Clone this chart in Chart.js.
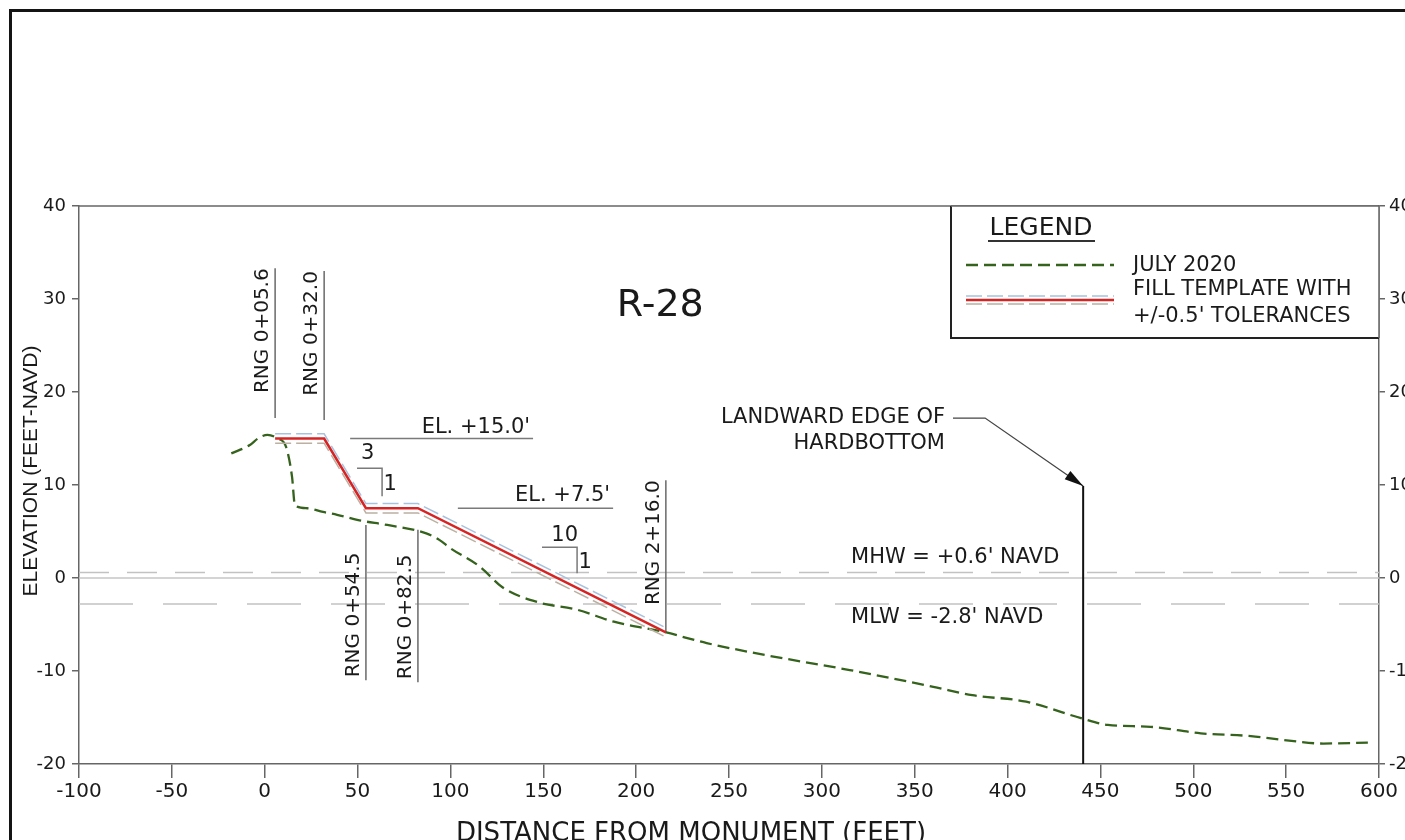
<!DOCTYPE html>
<html>
<head>
<meta charset="utf-8">
<script src="https://cdn.jsdelivr.net/npm/chart.js@4.4.1/dist/chart.umd.min.js"></script>
<style>
html,body{margin:0;padding:0;background:#fff;overflow:hidden;}
#wrap{position:relative;width:1405px;height:840px;}
#frame{position:absolute;left:9px;top:9px;width:2000px;height:2000px;border-left:3px solid #141414;border-top:3px solid #141414;pointer-events:none;}
canvas{position:absolute;left:0;top:0;}
</style>
</head>
<body>
<div id="wrap">
<canvas id="grafik" width="1405" height="840"></canvas>
<div id="frame"></div>
</div>
<script>
// profile R-28, values
const groundX = [-18, -8, -3.6, 1.5, 7, 11.5, 14.7, 16.3, 22.8, 31.4, 39, 51, 66, 87, 94, 100, 116, 128, 147, 168, 188, 215, 238, 270, 315, 360, 381, 410, 440, 454, 477, 504, 531, 548, 570, 594];
const groundY = [13.4, 14.3, 15.0, 15.4, 15.0, 14.1, 10.9, 7.8, 7.5, 7.1, 6.8, 6.2, 5.7, 4.8, 4.1, 3.2, 1.2, -1.0, -2.6, -3.4, -4.7, -5.8, -7.0, -8.3, -9.9, -11.7, -12.6, -13.3, -15.1, -15.8, -16.0, -16.7, -17.0, -17.4, -17.8, -17.7];

const templateX = [5.6, 32.0, 54.5, 82.5, 216.0];
const templateY = [15.0, 15.0, 7.5, 7.5, -5.85];
const tolerance = 0.5;

const tideLabels = ["MHW = +0.6' NAVD", "MLW = -2.8' NAVD"];
const tideLevels = [0.6, -2.8];

const rngStations = [5.6, 32.0, 54.5, 82.5, 216.0];
const rngLabels = ['RNG 0+05.6', 'RNG 0+32.0', 'RNG 0+54.5', 'RNG 0+82.5', 'RNG 2+16.0'];
const rngTop = [33.3, 33.0, 5.7, 5.2, 10.5];
const rngBottom = [17.2, 17.0, -11.0, -11.2, -5.8];

const elLabels = ["EL. +15.0'", "EL. +7.5'"];
const elLevels = [15.0, 7.5];
const elFrom = [46, 104];
const elTo = [144.5, 187.6];

const hardbottomX = 440.7;
const hardbottomTop = 9.9;

const xMin = -100, xMax = 600, xStep = 50;
const yMin = -20, yMax = 40, yStep = 10;

// slope markers (run / rise)
const slopes = [
  {x1: 49.7, x2: 63.2, y1: 11.8, y2: 8.8, run: '3', rise: '1', runAt: [55.5, 13.4], riseAt: [67.5, 10.1]},
  {x1: 149.3, x2: 168.2, y1: 3.3, y2: 0.5, run: '10', rise: '1', runAt: [161.5, 4.6], riseAt: [172.5, 1.7]}
];

const pts = (xs, ys) => xs.map((v, i) => ({x: v, y: ys[i]}));
const FONT = '"DejaVu Sans", Verdana, sans-serif';
const ANN = 21;

const datasets = [];
datasets.push({label: 'FILL TEMPLATE', data: pts(templateX, templateY), borderColor: '#d62424', borderWidth: 2.5, order: 0});
datasets.push({label: 'tol+', data: pts(templateX, templateY.map(v => v + tolerance)), borderColor: '#a9c1dc', borderWidth: 1.5, borderDash: [16, 5], order: 1});
datasets.push({label: 'tol-', data: pts(templateX, templateY.map(v => v - tolerance)), borderColor: '#bbb0a2', borderWidth: 1.5, borderDash: [16, 5], order: 1});
datasets.push({label: 'JULY 2020', data: pts(groundX, groundY), borderColor: '#35621c', borderWidth: 2.3, borderDash: [12, 6], cubicInterpolationMode: 'monotone', order: 2});
datasets.push({label: 'zero', data: [{x: xMin, y: 0}, {x: xMax, y: 0}], borderColor: '#c6c6c6', borderWidth: 1.5, order: 9});
datasets.push({label: 'MHW', data: [{x: xMin, y: tideLevels[0]}, {x: xMax, y: tideLevels[0]}], borderColor: '#c2c2c2', borderWidth: 1.5, borderDash: [30, 18], order: 9});
datasets.push({label: 'MLW', data: [{x: xMin, y: tideLevels[1]}, {x: xMax, y: tideLevels[1]}], borderColor: '#c2c2c2', borderWidth: 1.5, borderDash: [54, 30], order: 9});
rngStations.forEach((s, i) => {
  datasets.push({label: rngLabels[i], data: [{x: s, y: rngTop[i]}, {x: s, y: rngBottom[i]}], borderColor: '#6a6a6a', borderWidth: 1.5, order: 5});
});
elLevels.forEach((e, i) => {
  datasets.push({label: elLabels[i], data: [{x: elFrom[i], y: e}, {x: elTo[i], y: e}], borderColor: '#7a7a7a', borderWidth: 1.5, order: 5});
});
slopes.forEach(s => {
  datasets.push({label: 'slope', data: [{x: s.x1, y: s.y1}, {x: s.x2, y: s.y1}, {x: s.x2, y: s.y2}], borderColor: '#7a7a7a', borderWidth: 1.5, order: 5});
});
datasets.push({label: 'hardbottom', data: [{x: hardbottomX, y: hardbottomTop}, {x: hardbottomX, y: yMin}], borderColor: '#111', borderWidth: 2, order: 3});

datasets.forEach(d => { d.showLine = true; d.pointRadius = 0; d.fill = false; });

function txt(ctx, s, x, y, size, align, fam) {
  ctx.font = size + 'px ' + (fam || FONT);
  ctx.textAlign = align || 'left';
  ctx.textBaseline = 'middle';
  ctx.fillText(s, x, y);
}

const drawings = {
  id: 'drawings',
  afterDatasetsDraw(chart) {
    const ctx = chart.ctx, xs = chart.scales.x, ys = chart.scales.y, a = chart.chartArea;
    const X = v => xs.getPixelForValue(v), Y = v => ys.getPixelForValue(v);
    ctx.save();
    // top border
    ctx.strokeStyle = '#666'; ctx.lineWidth = 1.5;
    ctx.beginPath(); ctx.moveTo(a.left, a.top); ctx.lineTo(a.right, a.top); ctx.stroke();

    ctx.fillStyle = '#1a1a1a';
    txt(ctx, 'R-28', X(213), Y(29.2), 38, 'center');

    // RNG labels
    rngStations.forEach((s, i) => {
      ctx.save();
      const atTop = rngTop[i] > 9;
      ctx.translate(X(s) - 12, atTop ? Y(rngTop[i]) : Y(rngBottom[i]) - 3);
      ctx.rotate(-Math.PI / 2);
      txt(ctx, rngLabels[i], 0, 0, 20, atTop ? 'right' : 'left');
      ctx.restore();
    });

    txt(ctx, elLabels[0], X(elTo[0]) - 3, Y(elLevels[0] + 1.2), ANN, 'right');
    txt(ctx, elLabels[1], X(elTo[1]) - 3, Y(elLevels[1] + 1.4), ANN, 'right');
    slopes.forEach(s => {
      txt(ctx, s.run, X(s.runAt[0]), Y(s.runAt[1]), ANN, 'center');
      txt(ctx, s.rise, X(s.riseAt[0]), Y(s.riseAt[1]), ANN, 'center');
    });
    txt(ctx, tideLabels[0], X(315.7), Y(tideLevels[0] + 1.55), ANN, 'left');
    txt(ctx, tideLabels[1], X(315.7), Y(tideLevels[1] - 1.5), ANN, 'left');

    // hardbottom leader
    txt(ctx, 'LANDWARD EDGE OF', X(366.3), Y(17.3), ANN, 'right');
    txt(ctx, 'HARDBOTTOM', X(366.3), Y(14.5), ANN, 'right');
    const tx = X(hardbottomX), ty = Y(hardbottomTop), ex = X(387.9), ey = Y(17.2);
    ctx.strokeStyle = '#444'; ctx.lineWidth = 1.3;
    ctx.beginPath(); ctx.moveTo(X(370.6), ey); ctx.lineTo(ex, ey); ctx.lineTo(tx, ty); ctx.stroke();
    const ang = Math.atan2(ty - ey, tx - ex);
    ctx.fillStyle = '#111';
    ctx.beginPath();
    ctx.moveTo(tx, ty);
    ctx.lineTo(tx - 19 * Math.cos(ang) + 5 * Math.sin(ang), ty - 19 * Math.sin(ang) - 5 * Math.cos(ang));
    ctx.lineTo(tx - 19 * Math.cos(ang) - 5 * Math.sin(ang), ty - 19 * Math.sin(ang) + 5 * Math.cos(ang));
    ctx.closePath(); ctx.fill();

    // legend box
    const L = a.right - 428, T = a.top, W = 428, H = 132;
    ctx.fillStyle = '#fff'; ctx.fillRect(L, T, W, H);
    ctx.strokeStyle = '#222'; ctx.lineWidth = 2;
    ctx.beginPath(); ctx.moveTo(L, T); ctx.lineTo(L, T + H); ctx.lineTo(a.right, T + H); ctx.stroke();
    ctx.strokeStyle = '#666'; ctx.lineWidth = 1.5;
    ctx.beginPath(); ctx.moveTo(L, T); ctx.lineTo(a.right, T); ctx.lineTo(a.right, T + H); ctx.stroke();
    ctx.fillStyle = '#1a1a1a';
    txt(ctx, 'LEGEND', L + 90, T + 22, 25, 'center');
    ctx.strokeStyle = '#333'; ctx.lineWidth = 2;
    ctx.beginPath(); ctx.moveTo(L + 37, T + 35); ctx.lineTo(L + 144, T + 35); ctx.stroke();
    const sample = (d, y) => {
      ctx.strokeStyle = d.borderColor; ctx.lineWidth = d.borderWidth;
      ctx.setLineDash(d.borderDash || []);
      ctx.beginPath(); ctx.moveTo(L + 15, y); ctx.lineTo(L + 163, y); ctx.stroke();
      ctx.setLineDash([]);
    };
    sample(datasets[3], T + 59);
    sample(datasets[1], T + 90);
    sample(datasets[2], T + 98);
    sample(datasets[0], T + 94);
    ctx.fillStyle = '#1a1a1a';
    txt(ctx, 'JULY 2020', L + 182, T + 60, 21, 'left');
    txt(ctx, 'FILL TEMPLATE WITH', L + 182, T + 84, 21, 'left');
    txt(ctx, "+/-0.5' TOLERANCES", L + 182, T + 111, 21, 'left');

    // axis titles
    ctx.save();
    ctx.translate(31, 471);
    ctx.rotate(-Math.PI / 2);
    txt(ctx, 'ELEVATION (FEET-NAVD)', 0, 0, 21, 'center', '"Liberation Sans", Arial, sans-serif');
    ctx.restore();
    ctx.font = '26px ' + FONT; ctx.textAlign = 'center'; ctx.textBaseline = 'top';
    ctx.fillText('DISTANCE FROM MONUMENT (FEET)', 691, 821);
    ctx.restore();
  }
};

const axisGrid = {drawOnChartArea: false, color: '#666', lineWidth: 1.5};
const axisBorder = {display: true, color: '#666', width: 1.5};

new Chart(document.getElementById('grafik'), {
  type: 'scatter',
  data: {datasets: datasets},
  options: {
    responsive: false,
    animation: false,
    devicePixelRatio: 1,
    layout: {padding: {top: 206, left: 0, right: 0, bottom: 0}},
    plugins: {legend: {display: false}, tooltip: {enabled: false}},
    scales: {
      x: {
        type: 'linear', position: 'bottom', min: xMin, max: xMax,
        ticks: {stepSize: xStep, font: {family: FONT, size: 20}, color: '#1a1a1a', padding: 2, maxRotation: 0},
        grid: Object.assign({tickLength: 14}, axisGrid), border: axisBorder,
        afterFit: s => { s.height = 76; }
      },
      y: {
        type: 'linear', position: 'left', min: yMin, max: yMax,
        ticks: {stepSize: yStep, font: {family: FONT, size: 18}, color: '#1a1a1a', padding: 6},
        grid: Object.assign({tickLength: 7}, axisGrid), border: axisBorder,
        afterFit: s => { s.width = 79; }
      },
      y2: {
        type: 'linear', position: 'right', min: yMin, max: yMax,
        ticks: {stepSize: yStep, font: {family: FONT, size: 18}, color: '#1a1a1a', padding: 4},
        grid: Object.assign({tickLength: 6}, axisGrid), border: axisBorder,
        afterFit: s => { s.width = 26; }
      }
    }
  },
  plugins: [drawings]
});
</script>
</body>
</html>
